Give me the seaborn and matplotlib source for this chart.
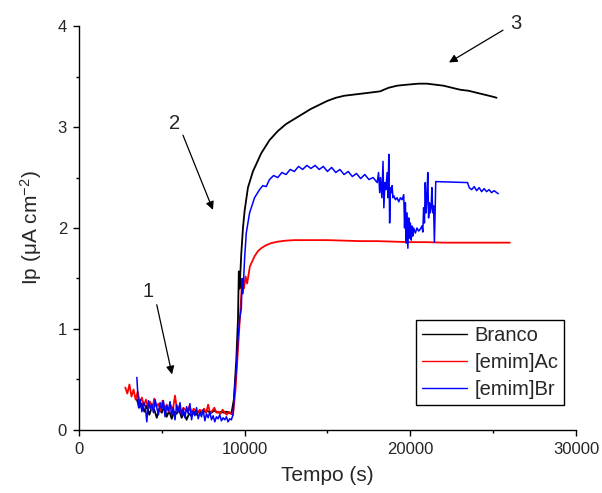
import numpy as np
import pandas as pd
import seaborn as sns
import matplotlib
matplotlib.use("Agg")
import matplotlib.pyplot as plt

# ---------------- data: photocurrent Ip (uA cm^-2) versus time (s) ----------------
series_names = ["Branco", "[emim]Ac", "[emim]Br"]
series_colors = ["#000000", "#ff0000", "#0000ff"]

# Branco: noisy baseline (3500 -> 9200 s, 150 s step), then rise and plateau
branco_base_t = (3500, 9200)
branco_base_ip = [0.30, 0.22, 0.26, 0.18, 0.24, 0.15, 0.22, 0.20, 0.12, 0.21,
                  0.17, 0.23, 0.13, 0.19, 0.11, 0.18, 0.16, 0.20, 0.12, 0.17,
                  0.10, 0.16, 0.14, 0.18, 0.15, 0.19, 0.17, 0.18, 0.19, 0.18,
                  0.17, 0.19, 0.18, 0.17, 0.18, 0.17, 0.18, 0.17, 0.16]
branco_t = [9350, 9500, 9600, 9650, 9700, 9800, 9900, 10000, 10200, 10500,
            11000, 11500, 12000, 12500, 13000, 13500, 14000, 14500, 15000, 15500,
            16000, 16500, 17000, 17500, 18000, 18200, 18400, 18700, 19200, 19800,
            20500, 21000, 21500, 22000, 22500, 23000, 23500, 24000, 24500, 25000, 25200]
branco_ip = [0.30, 0.70, 1.10, 1.57, 1.40, 1.75, 2.00, 2.17, 2.40, 2.56,
             2.74, 2.87, 2.96, 3.03, 3.08, 3.13, 3.18, 3.22, 3.26, 3.29,
             3.31, 3.32, 3.33, 3.34, 3.35, 3.355, 3.37, 3.39, 3.41, 3.42,
             3.43, 3.43, 3.42, 3.41, 3.39, 3.37, 3.36, 3.34, 3.32, 3.30, 3.29]

# [emim]Ac: noisy baseline (2800 -> 9300 s, 125 s step), then rise and plateau
ac_base_t = (2800, 9300)
ac_base_ip = [0.42, 0.36, 0.45, 0.33, 0.40, 0.30, 0.38, 0.27, 0.32, 0.24,
              0.30, 0.22, 0.28, 0.20, 0.31, 0.23, 0.26, 0.19, 0.29, 0.21,
              0.25, 0.18, 0.24, 0.20, 0.34, 0.19, 0.23, 0.17, 0.22, 0.20,
              0.18, 0.24, 0.17, 0.21, 0.19, 0.17, 0.20, 0.18, 0.21, 0.17,
              0.25, 0.16, 0.19, 0.22, 0.17, 0.18, 0.16, 0.20, 0.17, 0.15,
              0.18, 0.16, 0.15]
ac_t = [9450, 9600, 9750, 9850, 9960, 10060, 10150, 10320, 10600, 10800,
        11000, 11300, 11600, 12000, 12500, 13000, 14000, 15000, 16000, 17000,
        18000, 19000, 20000, 21000, 22000, 23000, 24000, 25000, 26000]
ac_ip = [0.40, 0.80, 1.20, 1.48, 1.40, 1.52, 1.45, 1.62, 1.72, 1.77,
         1.80, 1.83, 1.85, 1.865, 1.875, 1.88, 1.88, 1.88, 1.875, 1.87,
         1.87, 1.865, 1.86, 1.86, 1.855, 1.855, 1.855, 1.855, 1.855]

# [emim]Br: noisy baseline (3500 -> 9200 s, 100 s step), then rise, wavy plateau and unstable zone
br_base_t = (3500, 9200)
br_base_ip = [0.52, 0.22, 0.30, 0.18, 0.27, 0.24, 0.08, 0.29, 0.21, 0.26,
              0.17, 0.30, 0.22, 0.15, 0.27, 0.20, 0.29, 0.13, 0.24, 0.19,
              0.28, 0.15, 0.22, 0.10, 0.25, 0.18, 0.27, 0.14, 0.21, 0.12,
              0.23, 0.16, 0.26, 0.10, 0.19, 0.14, 0.22, 0.11, 0.17, 0.13,
              0.20, 0.09, 0.16, 0.12, 0.18, 0.10, 0.14, 0.08, 0.13, 0.11,
              0.15, 0.09, 0.12, 0.10, 0.13, 0.08, 0.11, 0.10]
br_t = [9300, 9400, 9500, 9600, 9700, 9800, 9850, 9900, 10000, 10100,
        10300, 10600, 10900, 11100, 11300,
        11500, 11750, 12000, 12250, 12500, 12750, 13000, 13250, 13500, 13750,
        14000, 14250, 14500, 14750, 15000, 15250, 15500, 15750, 16000, 16250,
        16500, 16750, 17000, 17250, 17500, 17750, 18000,
        18080, 18150, 18200, 18280, 18350, 18400, 18470, 18520, 18600, 18650,
        18700, 18750, 18800, 18850, 18900, 18950, 19000, 19100, 19200, 19300,
        19400, 19500, 19600, 19650, 19700, 19750, 19800, 19850, 19900, 19950,
        20000, 20050, 20100, 20150, 20200, 20300, 20400, 20500, 20600, 20700,
        20750, 20800, 20850, 20900, 20950, 21000, 21050, 21100, 21150, 21200,
        21250, 21300, 21350, 21400, 21450, 21500, 21530, 23450, 23550, 23700,
        23850, 24000, 24150, 24300, 24450, 24600, 24750, 24900, 25050, 25300]
br_ip = [0.15, 0.40, 0.60, 0.90, 1.10, 1.20, 1.50, 1.35, 1.70, 1.95,
         2.15, 2.30, 2.38, 2.42, 2.41,
         2.48, 2.52, 2.50, 2.55, 2.53, 2.58, 2.56, 2.61, 2.58, 2.62,
         2.59, 2.62, 2.58, 2.61, 2.56, 2.60, 2.55, 2.58, 2.53, 2.56,
         2.51, 2.54, 2.49, 2.53, 2.48, 2.50, 2.45,
         2.55, 2.35, 2.50, 2.30, 2.66, 2.20, 2.45, 2.38, 2.55, 2.30,
         2.73, 2.05, 2.40, 2.35, 2.42, 2.30, 2.32, 2.28, 2.30, 2.26,
         2.30, 2.28, 2.33, 2.00, 2.25, 1.85, 2.15, 1.80, 2.10, 1.90,
         2.05, 1.88, 2.02, 1.92, 2.00, 1.95, 2.00, 1.97, 1.99, 2.02,
         1.96, 2.20, 2.05, 2.45, 2.15, 2.30, 2.55, 2.10, 2.25, 2.15,
         2.20, 2.40, 2.15, 2.22, 1.86, 2.20, 2.46, 2.45, 2.40, 2.38,
         2.41, 2.37, 2.40, 2.36, 2.39, 2.36, 2.38, 2.35, 2.37, 2.34]

# annotation labels: (text, text centre, arrow tail, arrow head) in data units
ann_labels = ["1", "2", "3"]
ann_text_xy = [(4150, 1.37), (5800, 3.04), (26350, 4.03)]
ann_tail_xy = [(4700, 1.24), (6280, 2.92), (25590, 3.96)]
ann_head_xy = [(5620, 0.55), (8090, 2.18), (22330, 3.64)]


def build(name, base_range, base_vals, t, ip):
    base_t = np.linspace(base_range[0], base_range[1], len(base_vals))
    return pd.DataFrame({
        "Tempo (s)": np.concatenate([base_t, t]),
        "Ip": np.concatenate([base_vals, ip]),
        "serie": name,
    })


df = pd.concat([
    build(series_names[0], branco_base_t, branco_base_ip, branco_t, branco_ip),
    build(series_names[1], ac_base_t, ac_base_ip, ac_t, ac_ip),
    build(series_names[2], br_base_t, br_base_ip, br_t, br_ip),
], ignore_index=True)

# ---------------- style ----------------
sns.set_style("ticks")
plt.rcParams["font.family"] = ["Liberation Sans", "DejaVu Sans"]
plt.rcParams["mathtext.fontset"] = "custom"
plt.rcParams["mathtext.rm"] = "Liberation Sans"
plt.rcParams["mathtext.it"] = "Liberation Sans:italic"
plt.rcParams["axes.linewidth"] = 1.0

fig = plt.figure(figsize=(6.02, 4.93), dpi=100)
ax = fig.add_axes([0.131, 0.128, 0.826, 0.819])

sns.lineplot(data=df, x="Tempo (s)", y="Ip", hue="serie",
             hue_order=series_names, palette=series_colors,
             estimator=None, sort=False, linewidth=1.3, ax=ax)
# the blue trace is a little thinner than the other two
ax.lines[2].set_linewidth(1.1)

ax.set_xlim(0, 30000)
ax.set_ylim(0, 4)
ax.set_xticks([0, 10000, 20000, 30000])
ax.set_xticks([5000, 15000, 25000], minor=True)
ax.set_yticks([0, 1, 2, 3, 4])
ax.set_yticks([0.5, 1.5, 2.5, 3.5], minor=True)
ax.tick_params(axis="both", which="major", direction="out", length=4.5,
               width=1.0, labelsize=12, pad=4, color="black")
ax.tick_params(axis="both", which="minor", direction="out", length=2.5,
               width=1.0, color="black")
for s in ("top", "right"):
    ax.spines[s].set_visible(False)
for s in ("left", "bottom"):
    ax.spines[s].set_color("black")

ax.set_xlabel("Tempo (s)", fontsize=15, labelpad=7)
ax.set_ylabel("Ip (μA cm$^{-2}$)", fontsize=15, labelpad=10)

for lab, txy, tail, head in zip(ann_labels, ann_text_xy, ann_tail_xy, ann_head_xy):
    ax.text(txy[0], txy[1], lab, fontsize=14.5, ha="center", va="center")
    ax.annotate("", xy=head, xytext=tail,
                arrowprops=dict(arrowstyle="-|>", color="black", lw=0.9,
                                mutation_scale=12, shrinkA=0, shrinkB=0))

leg = ax.legend(title=None, loc="lower right", bbox_to_anchor=(0.976, 0.062),
                fontsize=14.5, frameon=True, fancybox=False, edgecolor="black",
                framealpha=1, handlelength=2.25, handletextpad=0.35,
                borderpad=0.3, labelspacing=0.4, borderaxespad=0)
leg.get_frame().set_linewidth(1.0)
for h in leg.get_lines():
    h.set_linewidth(1.0)

fig.savefig("out.png", dpi=100)
